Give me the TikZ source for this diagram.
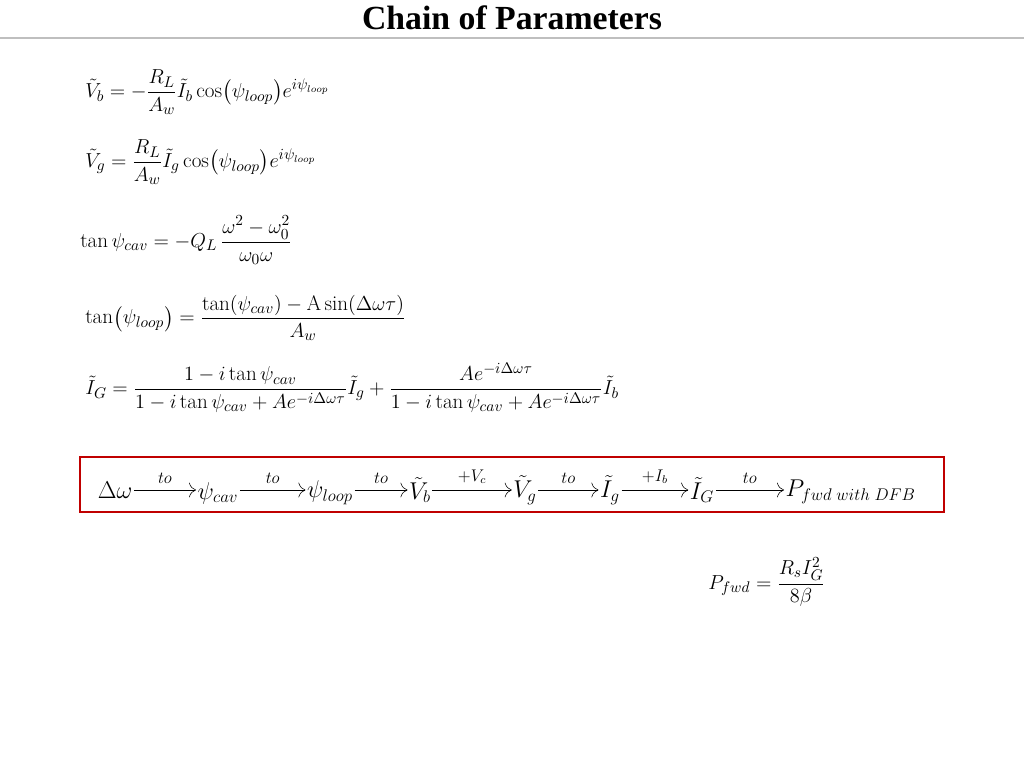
\documentclass[tikz,border=0pt]{standalone}
\usepackage{amsmath}
\usepackage{amssymb}
\usepackage{fontspec}
\newfontfamily\titlefont{Liberation Serif}
\usepackage{xcolor}
\usetikzlibrary{arrows.meta, positioning}
\definecolor{boxred}{HTML}{C00000}
\definecolor{rulegray}{HTML}{BFBFBF}
\begin{document}
\begin{tikzpicture}[
    x=0.025cm, y=-0.025cm,
    eqn/.style={anchor=west, inner sep=0pt, font=\fontsize{15}{18}\selectfont},
    sym/.style={inner sep=1pt, font=\fontsize{17}{20}\selectfont},
    lbl/.style={font=\fontsize{12}{14}\selectfont, above=1pt},
    >={To[length=5pt]}
  ]
    \useasboundingbox (0,0) rectangle (1024,768);
    \node[font=\titlefont\bfseries\fontsize{24}{28}\selectfont] (title) at (512,18) {Chain of Parameters};
    \draw[rulegray, line width=1pt] (0,38) -- (1024,38);

    \node[eqn] (vb) at (85,92)
      {$\tilde{V}_b=-\dfrac{R_L}{A_w}\tilde{I}_b\cos\!\big(\psi_{loop}\big)e^{i\psi_{loop}}$};
    \node[eqn] (vg) at (85,162)
      {$\tilde{V}_g=\dfrac{R_L}{A_w}\tilde{I}_g\cos\!\big(\psi_{loop}\big)e^{i\psi_{loop}}$};
    \node[eqn] (tcav) at (80,240)
      {$\tan\psi_{cav}=-Q_L\,\dfrac{\omega^2-\omega_0^2}{\omega_0\omega}$};
    \node[eqn] (tloop) at (85,318)
      {$\tan\!\big(\psi_{loop}\big)=\dfrac{\tan(\psi_{cav})-\mathrm{A}\sin(\Delta\omega\tau)}{A_w}$};
    \node[eqn] (ig) at (85,388)
      {$\tilde{I}_G=\dfrac{1-i\tan\psi_{cav}}{1-i\tan\psi_{cav}+Ae^{-i\Delta\omega\tau}}\tilde{I}_g+\dfrac{Ae^{-i\Delta\omega\tau}}{1-i\tan\psi_{cav}+Ae^{-i\Delta\omega\tau}}\tilde{I}_b$};

    % chain of parameters
    \draw[boxred, line width=1.5pt] (80,457) rectangle (944,512);
    \node[sym] (dw)  at (115,490) {$\Delta\omega$};
    \node[sym] (pc)  at (218,493) {$\psi_{cav}$};
    \node[sym] (pl)  at (330,493) {$\psi_{loop}$};
    \node[sym] (cvb) at (420,490) {$\tilde{V}_b$};
    \node[sym] (cvg) at (525,490) {$\tilde{V}_g$};
    \node[sym] (cig) at (610,490) {$\tilde{I}_g$};
    \node[sym] (cIG) at (702,490) {$\tilde{I}_G$};
    \node[sym, anchor=west] (pf) at (784,492) {$P_{fwd\;with\;DFB}$};
    \foreach \a/\b/\t in {dw/pc/to, pc/pl/to, pl/cvb/to, cvb/cvg/{+V_c}, cvg/cig/to, cig/cIG/{+I_b}, cIG/pf/to}
      \draw[->] (\a.east |- 0,490) -- node[lbl] {$\t$} (\b.west |- 0,490);

    \node[eqn] (pfwd) at (708,582) {$P_{fwd}=\dfrac{R_sI_G^2}{8\beta}$};
\end{tikzpicture}
\end{document}
